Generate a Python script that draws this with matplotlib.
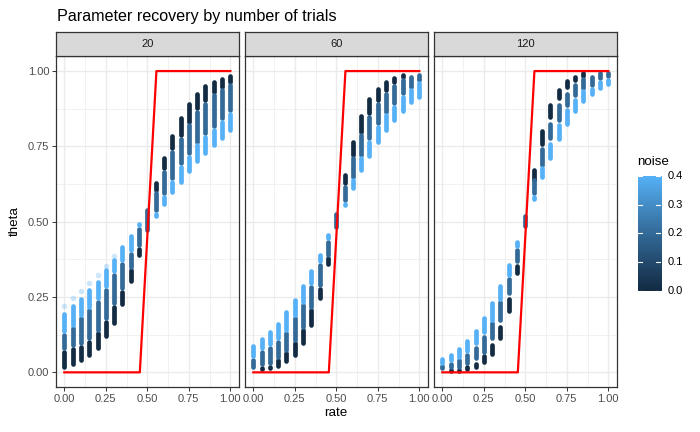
import matplotlib
matplotlib.use("Agg")
import matplotlib.pyplot as plt
import numpy as np
from matplotlib.colors import LinearSegmentedColormap

plt.rcParams['font.family'] = ['Liberation Sans', 'DejaVu Sans']

rate = [0.00, 0.05, 0.10, 0.15, 0.20, 0.25, 0.30, 0.35, 0.40, 0.45, 0.50,
        0.55, 0.60, 0.65, 0.70, 0.75, 0.80, 0.85, 0.90, 0.95, 1.00]
trials = ["20", "60", "120"]
noise_levels = [0.0, 0.2, 0.4]

# visible theta range (low, high) of each streak band, per noise level
dark_20 = [(.013, .074), (.021, .085), (.035, .090), (.052, .107), (.076, .135), (.113, .174),
           (.157, .223), (.221, .273), (.298, .345), (.382, .417), None, (.600, .636),
           (.671, .716), (.738, .791), (.782, .851), (.826, .896), (.871, .930), (.898, .955),
           (.926, .970), (.942, .981), (.959, .988)]
med_20 = [(.074, .130), (.085, .152), (.090, .185), (.107, .212), (.135, .240), (.174, .279),
          (.223, .329), (.273, .367), (.345, .400), (.417, .483), (.465, .546), (.533, .600),
          (.588, .671), (.638, .738), (.688, .782), (.721, .826), (.760, .871), (.788, .898),
          (.810, .926), (.837, .942), (.865, .959)]
light_20 = [(.130, .198), (.152, .226), (.185, .251), (.212, .279), (.240, .306), (.279, .345),
            (.329, .378), (.367, .423), (.400, .459), (.483, .500), None, (.514, .533),
            (.553, .588), (.594, .638), (.627, .688), (.663, .721), (.694, .760), (.721, .788),
            (.747, .810), (.771, .837), (.799, .865)]
outlier_rate_20 = [0.00, 0.05, 0.10, 0.15, 0.20, 0.25, 0.30]
outlier_theta_20 = [0.220, 0.247, 0.270, 0.295, 0.322, 0.353, 0.386]

dark_60 = [(.002, .013), (.006, .021), (.008, .024), (.015, .046), (.030, .069), (.052, .102),
           (.091, .146), (.152, .212), (.240, .284), (.354, .384), None, (.622, .660),
           (.716, .771), (.793, .857), (.854, .913), (.898, .946), (.931, .970), (.957, .983),
           (.975, .992), (.987, .998), (.993, .999)]
med_60 = [(.013, .047), (.021, .074), (.024, .087), (.046, .107), (.069, .135), (.102, .185),
          (.146, .229), (.212, .290), (.284, .362), (.384, .439), (.478, .533), (.566, .622),
          (.644, .716), (.716, .793), (.771, .854), (.821, .898), (.859, .931), (.887, .957),
          (.920, .975), (.942, .987), (.965, .993)]
light_60 = [(.047, .094), (.074, .115), (.087, .140), (.107, .168), (.135, .207), (.185, .246),
            (.229, .293), (.290, .342), (.362, .397), (.439, .461), None, (.548, .566),
            (.607, .644), (.665, .716), (.712, .771), (.758, .821), (.799, .859), (.832, .887),
            (.863, .920), (.890, .942), (.909, .965)]

dark_120 = [(.000, .010), (.000, .013), (.000, .013), (.006, .024), (.011, .035), (.028, .061),
            (.054, .098), (.107, .157), (.196, .249), (.323, .360), None, (.633, .677),
            (.751, .808), (.843, .893), (.904, .942), (.942, .972), (.965, .987), (.979, .998),
            (.987, .998), (.992, .998), (.994, .999)]
med_120 = [(.008, .026), (.013, .035), (.013, .046), (.024, .063), (.041, .087), (.063, .124),
           (.107, .171), (.168, .238), (.257, .317), (.362, .412), (.479, .524), (.588, .644),
           (.683, .747), (.771, .830), (.832, .893), (.882, .931), (.915, .959), (.939, .979),
           (.948, .987), (.970, .998), (.976, .998)]
light_120 = [(.024, .049), (.035, .063), (.046, .085), (.065, .111), (.091, .143), (.129, .185),
             (.168, .235), (.238, .293), (.317, .362), (.412, .439), None, (.570, .588),
             (.644, .683), (.707, .765), (.768, .826), (.819, .876), (.860, .909), (.893, .939),
             (.918, .948), (.937, .970), (.950, .976)]

true_rate = [0.0, 0.455, 0.555, 1.0]
true_theta = [0.0, 0.0, 1.0, 1.0]

panels = [(dark_20, med_20, light_20), (dark_60, med_60, light_60), (dark_120, med_120, light_120)]

cmap = LinearSegmentedColormap.from_list(
    "gg", ["#132B43", "#234A6D", "#336A98", "#448DC6", "#56B1F7"])
norm = plt.Normalize(0, 0.4)

W, H = 700, 432
fig = plt.figure(figsize=(7, 4.32), dpi=100)

def fx(px):
    return px / W

def fy(py):
    return 1 - py / H

lefts = [56.0, 245.0, 434.0]
pw = 182.6
top, bottom = 56.0, 387.4
cap = 0.006

axes = []
for k, left in enumerate(lefts):
    ax = fig.add_axes([fx(left), fy(bottom), fx(pw), (bottom - top) / H])
    axes.append(ax)
    ax.set_xlim(-0.05, 1.05)
    ax.set_ylim(-0.05, 1.05)
    ax.set_xticks([0, 0.25, 0.5, 0.75, 1.0])
    ax.set_xticks([0.125, 0.375, 0.625, 0.875], minor=True)
    ax.set_yticks([0, 0.25, 0.5, 0.75, 1.0])
    ax.set_yticks([0.125, 0.375, 0.625, 0.875], minor=True)
    ax.grid(which='major', color='#EBEBEB', lw=1.0, zorder=0)
    ax.grid(which='minor', color='#EBEBEB', lw=0.5, zorder=0)
    ax.set_axisbelow(True)
    for s in ax.spines.values():
        s.set_color('#333333')
        s.set_linewidth(0.9)
    ax.tick_params(which='major', length=2.8, width=0.7, color='#333333',
                   labelsize=8, labelcolor='#4D4D4D', pad=2)
    ax.tick_params(which='minor', length=0)
    ax.set_xticklabels(["0.00", "0.25", "0.50", "0.75", "1.00"])
    if k == 0:
        ax.set_yticklabels(["0.00", "0.25", "0.50", "0.75", "1.00"])
    else:
        ax.tick_params(axis='y', which='major', length=0, labelleft=False)

    for bands, nz in zip(panels[k], noise_levels):
        col = cmap(norm(nz))
        for r, b in zip(rate, bands):
            if b is None:
                continue
            lo, hi = b[0] + cap, b[1] - cap
            if hi < lo:
                lo = hi = (b[0] + b[1]) / 2
            ax.plot([r, r], [lo, hi], color=col, lw=3.4, solid_capstyle='round', zorder=3)
    if k == 0:
        ax.scatter(outlier_rate_20, outlier_theta_20, s=16, color=cmap(norm(0.4)),
                   alpha=0.3, lw=0, zorder=2)
    ax.plot(true_rate, true_theta, color='red', lw=1.6, zorder=4)

    # facet strip
    sax = fig.add_axes([fx(left), fy(top), fx(pw), 24.0 / H])
    sax.set_facecolor('#D9D9D9')
    sax.set_xticks([])
    sax.set_yticks([])
    for s in sax.spines.values():
        s.set_color('#333333')
        s.set_linewidth(0.9)
    sax.text(0.5, 0.5, trials[k], ha='center', va='center', fontsize=8, color='#1A1A1A',
             transform=sax.transAxes)

fig.text(fx(57), fy(17), "Parameter recovery by number of trials", fontsize=11.6,
         ha='left', va='center', color='black')
fig.text(fx(336), fy(413), "rate", fontsize=9.6, ha='center', va='center')
fig.text(fx(15), fy(221), "theta", fontsize=9.6, ha='center', va='center', rotation=90)

# colour bar
cax = fig.add_axes([fx(637.7), fy(290.7), fx(23.3), (290.7 - 176) / H])
grad = np.linspace(0, 0.4, 200).reshape(-1, 1)
cax.imshow(grad, cmap=cmap, norm=norm, aspect='auto', origin='lower', extent=[0, 1, 0, 0.4])
for s in cax.spines.values():
    s.set_visible(False)
cax.set_xticks([])
cax.set_yticks([])
for v in [0.0, 0.1, 0.2, 0.3, 0.4]:
    cax.plot([0, 0.2], [v, v], color='white', lw=0.8)
    cax.plot([0.8, 1.0], [v, v], color='white', lw=0.8)
    cax.text(1.28, v, "%.1f" % v, fontsize=8, ha='left', va='center',
             transform=cax.transData, clip_on=False)
cax.set_xlim(0, 1)
cax.set_ylim(0, 0.4)
fig.text(fx(637), fy(162), "noise", fontsize=9.6, ha='left', va='center')

fig.savefig("out.png", dpi=100)
